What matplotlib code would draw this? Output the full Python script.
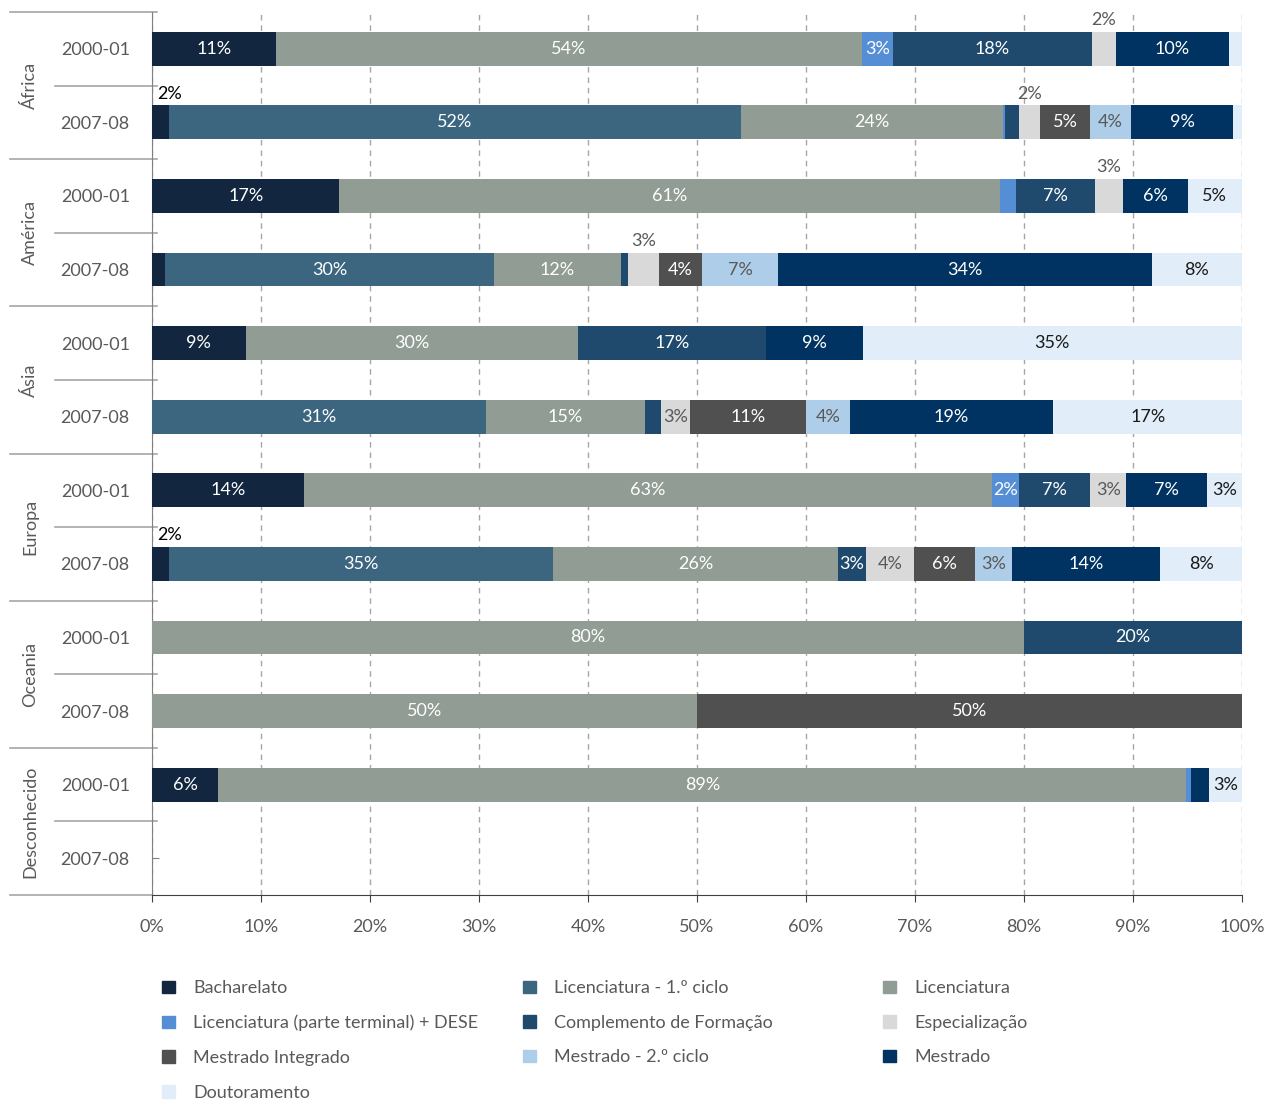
import matplotlib.pyplot as plt
import matplotlib.transforms as mtransforms
from matplotlib.patches import Patch

plt.rcParams['font.family'] = ['Lato', 'DejaVu Sans']

regions = ['África', 'América', 'Ásia', 'Europa', 'Oceania', 'Desconhecido']
years = ['2000-01', '2007-08']
series = ['Bacharelato', 'Licenciatura - 1.º ciclo', 'Licenciatura',
          'Licenciatura (parte terminal) + DESE', 'Complemento de Formação',
          'Especialização', 'Mestrado Integrado', 'Mestrado - 2.º ciclo',
          'Mestrado', 'Doutoramento']

# % por linha: África 00-01, África 07-08, América 00-01, ... Desconhecido 07-08
bacharelato     = [11.4, 1.6, 17.2, 1.2, 8.6, 0, 13.9, 1.6, 0, 0, 6.1, 0]
lic_1ciclo      = [0, 52.4, 0, 30.2, 0, 30.6, 0, 35.2, 0, 0, 0, 0]
licenciatura    = [53.7, 24.1, 60.6, 11.6, 30.5, 14.6, 63.2, 26.1, 80, 50, 88.8, 0]
lic_terminal    = [2.9, 0.2, 1.5, 0, 0, 0, 2.4, 0, 0, 0, 0.4, 0]
complemento     = [18.2, 1.2, 7.2, 0.7, 17.2, 1.5, 6.6, 2.6, 20, 0, 0, 0]
especializacao  = [2.2, 2.0, 2.6, 2.8, 0, 2.7, 3.3, 4.4, 0, 0, 0, 0]
mestrado_int    = [0, 4.6, 0, 4.0, 0, 10.6, 0, 5.6, 0, 50, 0, 0]
mestrado_2ciclo = [0, 3.7, 0, 6.9, 0, 4.0, 0, 3.4, 0, 0, 0, 0]
mestrado        = [10.4, 9.4, 5.9, 34.3, 8.9, 18.7, 7.4, 13.6, 0, 0, 1.7, 0]
doutoramento    = [1.3, 0.9, 5.0, 8.3, 34.8, 17.3, 3.2, 7.6, 0, 0, 3.0, 0]

values = [bacharelato, lic_1ciclo, licenciatura, lic_terminal, complemento,
          especializacao, mestrado_int, mestrado_2ciclo, mestrado, doutoramento]

colors = ['#132640', '#3C6680', '#919C95', '#558ED5', '#1F4A6E',
          '#D9D9D9', '#505050', '#AECDE8', '#003362', '#E1EDF8']
text_colors = ['white', 'white', 'white', 'white', 'white',
               '#595959', 'white', '#595959', 'white', '#1A1A1A']
# (linha, série) com rótulo por cima da barra
above = [(1, 0), (7, 0), (0, 5), (1, 5), (2, 5), (3, 5)]

gray = '#595959'
fig = plt.figure(figsize=(12.71, 11), dpi=100)
ax = fig.add_axes([152 / 1271, 1 - 895 / 1100, 1090 / 1271, 883 / 1100])

rows = list(range(len(regions) * len(years)))
h = 0.46
left = [0] * len(rows)
for s, vals in enumerate(values):
    ax.barh(rows, vals, left=left, height=h, color=colors[s], zorder=3)
    for r in rows:
        v = vals[r]
        if v <= 0:
            continue
        if (r, s) in above:
            c = 'black' if text_colors[s] == 'white' else text_colors[s]
            x, ha = left[r] + v / 2, 'center'
            if left[r] == 0:
                x, ha = 0.5, 'left'
            ax.text(x, r - h / 2 - 0.09, '%.0f%%' % v, ha=ha, va='baseline',
                    color=c, fontsize=13, zorder=4)
        elif v >= 1.95:
            ax.text(left[r] + v / 2, r, '%.0f%%' % v, ha='center', va='center',
                    color=text_colors[s], fontsize=13, zorder=4)
    left = [a + b for a, b in zip(left, vals)]

ax.set_xlim(0, 100)
ax.set_ylim(len(rows) - 0.5, -0.5)
ax.set_xticks(range(0, 101, 10))
ax.set_xticklabels(['%d%%' % t for t in range(0, 101, 10)])
ax.set_yticks(rows)
ax.set_yticklabels(years * len(regions))
ax.tick_params(axis='x', colors='#404040', labelcolor=gray, labelsize=13,
               length=5, pad=12)
ax.tick_params(axis='y', direction='in', colors='#808080', labelcolor=gray,
               labelsize=13, length=5, pad=16)
ax.grid(axis='x', color='#A6A6A6', linestyle=(0, (4, 3.5)), linewidth=1, zorder=0)
for sp in ['top', 'right']:
    ax.spines[sp].set_visible(False)
ax.spines['left'].set_color('#808080')
ax.spines['bottom'].set_color('#404040')

# eixo de categorias em dois níveis
trans = mtransforms.blended_transform_factory(ax.transAxes, ax.transData)
for i, reg in enumerate(regions):
    ax.text(-0.112, 2 * i + 0.5, reg, rotation=90, ha='center', va='center',
            color=gray, fontsize=13, transform=trans)
    ax.plot([-0.1303, 0.0046], [2 * i - 0.5] * 2, color='#A6A6A6', lw=1.2,
            transform=trans, clip_on=False)
    ax.plot([-0.089, 0.0046], [2 * i + 0.5] * 2, color='#A6A6A6', lw=1.2,
            transform=trans, clip_on=False)
ax.plot([-0.1303, 0], [len(rows) - 0.5] * 2, color='#A6A6A6', lw=1.2,
        transform=trans, clip_on=False)

# legenda em três colunas (ordem por linhas, como no original)
handles = [Patch(color=c) for c in colors]
for col, x0 in enumerate([155, 516, 876]):
    idx = list(range(col, len(series), 3))
    fig.legend([handles[i] for i in idx], [series[i] for i in idx],
               loc='upper left', bbox_to_anchor=(x0 / 1271, 1 - 973 / 1100),
               frameon=False, fontsize=13, labelcolor=gray, handlelength=0.7,
               handleheight=0.7, handletextpad=1.0, labelspacing=1.03,
               borderaxespad=0)

fig.savefig('out.png', dpi=100)
